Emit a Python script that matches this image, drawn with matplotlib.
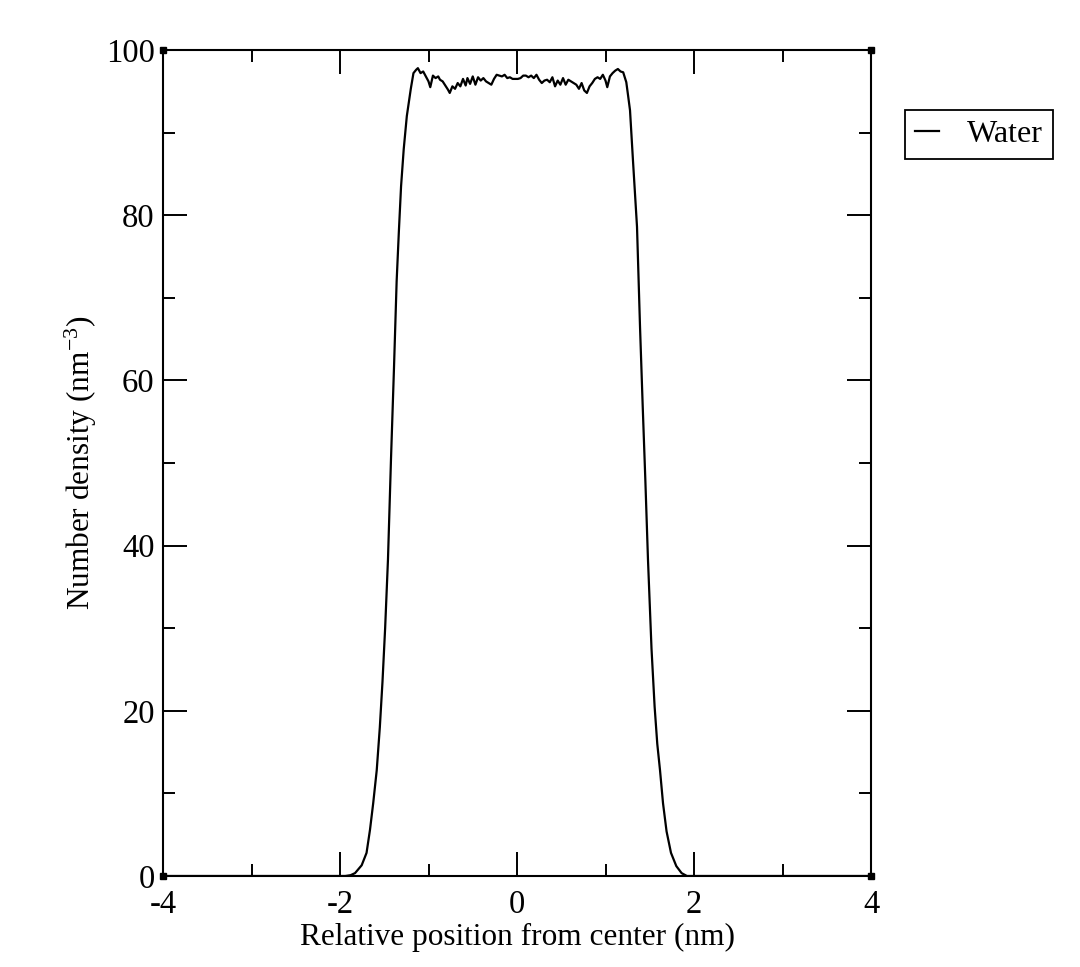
import matplotlib
matplotlib.use("Agg")
import matplotlib.pyplot as plt

# density profile of water across the slab
position = [
    -4.0, -2.0, -1.94, -1.88, -1.83, -1.755, -1.70, -1.661, -1.625, -1.585,
    -1.55, -1.52, -1.49, -1.458, -1.424, -1.39, -1.36, -1.335, -1.31, -1.28,
    -1.245, -1.20, -1.17, -1.14, -1.12, -1.09, -1.06, -1.03, -1.00, -0.98,
    -0.95, -0.92, -0.89, -0.87, -0.84, -0.81, -0.78, -0.76, -0.73, -0.70,
    -0.67, -0.64, -0.61, -0.58, -0.56, -0.53, -0.50, -0.47, -0.44, -0.41,
    -0.38, -0.35, -0.32, -0.29, -0.26, -0.23, -0.20, -0.17, -0.14, -0.11,
    -0.08, -0.05, -0.02, 0.01, 0.04, 0.07, 0.10, 0.13, 0.16, 0.19,
    0.22, 0.25, 0.28, 0.31, 0.34, 0.37, 0.40, 0.43, 0.46, 0.49,
    0.52, 0.55, 0.58, 0.61, 0.64, 0.67, 0.70, 0.73, 0.76, 0.79,
    0.82, 0.85, 0.88, 0.91, 0.94, 0.97, 1.00, 1.02, 1.05, 1.08,
    1.11, 1.14, 1.17, 1.20, 1.235, 1.255, 1.277, 1.31, 1.356, 1.39,
    1.42, 1.45, 1.48, 1.52, 1.555, 1.585, 1.616, 1.65, 1.69, 1.74,
    1.80, 1.86, 1.92, 2.0, 4.0,
]
density = [
    0.0, 0.0, 0.0, 0.1, 0.35, 1.3, 2.8, 5.6, 8.8, 12.8,
    18.0, 23.5, 30.0, 38.3, 50.4, 61.5, 72.0, 78.0, 83.5, 88.0,
    92.0, 95.3, 97.2, 97.6, 97.8, 97.2, 97.4, 96.8, 96.2, 95.5,
    96.9, 96.6, 96.8, 96.4, 96.2, 95.7, 95.2, 94.8, 95.6, 95.3,
    96.0, 95.6, 96.5, 95.7, 96.6, 95.9, 96.8, 95.8, 96.7, 96.3,
    96.6, 96.2, 96.0, 95.8, 96.5, 97.0, 96.9, 96.8, 97.0, 96.6,
    96.7, 96.5, 96.5, 96.5, 96.6, 96.9, 96.9, 96.7, 96.9, 96.6,
    97.0, 96.4, 96.0, 96.3, 96.4, 96.1, 96.7, 95.6, 96.3, 95.8,
    96.6, 95.8, 96.4, 96.2, 96.0, 95.8, 95.3, 96.0, 95.1, 94.8,
    95.6, 96.0, 96.5, 96.7, 96.5, 97.0, 96.3, 95.5, 96.8, 97.2,
    97.5, 97.7, 97.4, 97.3, 96.1, 94.5, 92.7, 86.7, 78.6, 66.5,
    57.0, 48.0, 38.3, 27.5, 20.5, 16.0, 12.8, 8.8, 5.4, 2.8,
    1.2, 0.35, 0.0, 0.0, 0.0,
]

x_ticks = [-4, -2, 0, 2, 4]
y_ticks = [0, 20, 40, 60, 80, 100]

plt.rcParams["font.family"] = ["Liberation Serif", "DejaVu Serif"]
plt.rcParams["mathtext.fontset"] = "stix"
plt.rcParams["axes.unicode_minus"] = False

fig = plt.figure(figsize=(10.8, 9.67), dpi=100)
ax = fig.add_axes([163 / 1080, 1 - 876 / 967, (871 - 163) / 1080, (876 - 50) / 967])

ax.plot(position, density, color="black", linewidth=1.6, label="Water")

ax.set_xlim(-4, 4)
ax.set_ylim(0, 100)
ax.set_xticks(x_ticks)
ax.set_yticks(y_ticks)
ax.set_xticks([-3, -1, 1, 3], minor=True)
ax.set_yticks([10, 30, 50, 70, 90], minor=True)
ax.tick_params(which="both", direction="in", top=True, right=True,
               labelsize=23.5, width=1.4, color="black")
ax.tick_params(which="major", length=17)
ax.tick_params(which="minor", length=8.5)
ax.tick_params(axis="x", pad=9.5)
ax.tick_params(axis="y", pad=6)
for side in ax.spines.values():
    side.set_linewidth(1.5)

ax.set_xlabel("Relative position from center (nm)", fontsize=22.5, labelpad=2)
ax.set_ylabel(r"Number density (nm$^{\mathregular{-3}}$)", fontsize=22.5, labelpad=5)

# little squares Grace puts on the frame corners
ax.plot([-4, 4, -4, 4], [0, 0, 100, 100], linestyle="none", marker="s",
        markersize=5, color="black", clip_on=False)

leg = ax.legend(loc="upper left", bbox_to_anchor=(905 / 1080, 1 - 110 / 967),
                bbox_transform=fig.transFigure, borderaxespad=0, fontsize=23,
                fancybox=False, framealpha=1, edgecolor="black",
                handlelength=0.75, handletextpad=0.9, borderpad=0.3)
leg.get_frame().set_linewidth(1.3)

plt.savefig("out.png", dpi=100)
